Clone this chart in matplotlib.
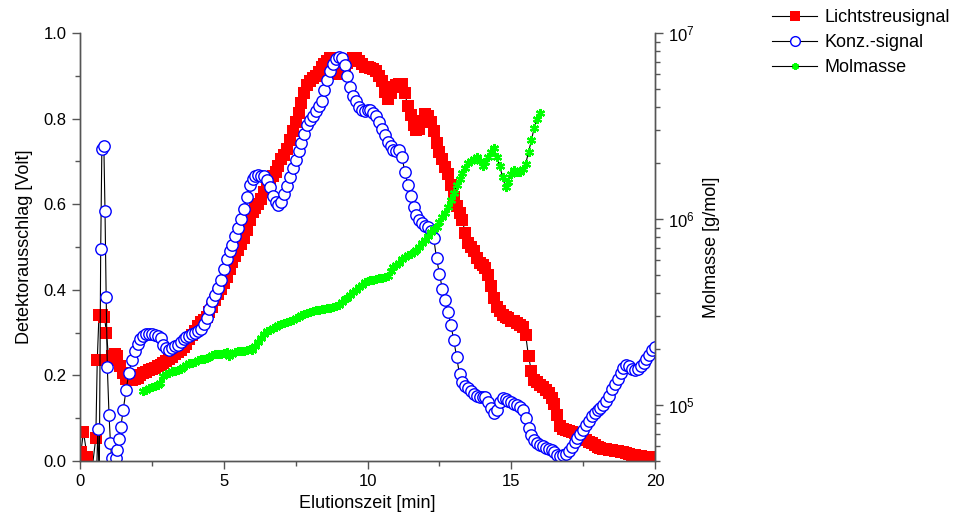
import numpy as np
import matplotlib
matplotlib.use("Agg")
import matplotlib.pyplot as plt
from matplotlib.lines import Line2D
from matplotlib.ticker import LogLocator, MultipleLocator, NullFormatter

plt.rcParams["font.family"] = ["Liberation Sans", "DejaVu Sans"]
plt.rcParams["mathtext.default"] = "regular"

# ---- DATA ----
# sparse points at the start of the run
licht_t_start = [0.03, 0.12, 0.25, 0.40, 0.55, 0.60, 0.66, 0.75, 0.85, 0.92, 1.00, 1.10, 1.20, 1.30, 1.40]
licht_v_start = [0.02, 0.068, 0.01, -0.03, 0.054, 0.235, 0.341, 0.34, 0.337, 0.300, 0.236, 0.245, 0.250, 0.245, 0.222]

konz_t_start = [0.55, 0.62, 0.67, 0.72, 0.76, 0.83, 0.87, 0.91, 0.95, 1.01, 1.06, 1.10, 1.17, 1.24, 1.29, 1.36, 1.42]
konz_v_start = [-0.1, 0.075, -0.05, 0.495, 0.73, 0.735, 0.584, 0.384, 0.22, 0.107, 0.041, 0.007, -0.02, 0.007, 0.026, 0.051, 0.08]

# dense part, one value every 0.1 min from 1.5 to 20.0 min
t_dense = np.round(np.arange(1.5, 20.01, 0.1), 1)

licht_dense = [
    0.205, 0.192, 0.189, 0.190, 0.192, 0.194, 0.200, 0.205, 0.209, 0.212,
    0.215, 0.218, 0.221, 0.225, 0.228, 0.233, 0.239, 0.244, 0.249, 0.255,
    0.260, 0.267, 0.274, 0.284, 0.294, 0.304, 0.315, 0.324, 0.330, 0.337,
    0.347, 0.360, 0.376, 0.390, 0.403, 0.417, 0.431, 0.448, 0.465, 0.478,
    0.492, 0.506, 0.522, 0.540, 0.562, 0.582, 0.592, 0.600, 0.612, 0.628,
    0.645, 0.658, 0.667, 0.676, 0.690, 0.705, 0.716, 0.728, 0.750, 0.772,
    0.793, 0.812, 0.836, 0.860, 0.878, 0.889, 0.896, 0.900, 0.908, 0.920,
    0.928, 0.935, 0.941, 0.935, 0.915, 0.904, 0.905, 0.915, 0.930, 0.938,
    0.941, 0.941, 0.935, 0.928, 0.921, 0.920, 0.918, 0.915, 0.912, 0.900,
    0.887, 0.862, 0.845, 0.860, 0.874, 0.878, 0.882, 0.880, 0.859, 0.830,
    0.808, 0.785, 0.773, 0.775, 0.795, 0.810, 0.805, 0.792, 0.770, 0.742,
    0.722, 0.705, 0.688, 0.670, 0.645, 0.617, 0.595, 0.580, 0.562, 0.532,
    0.510, 0.500, 0.490, 0.475, 0.463, 0.457, 0.452, 0.435, 0.410, 0.382,
    0.360, 0.350, 0.342, 0.337, 0.333, 0.328, 0.326, 0.322, 0.317, 0.312,
    0.295, 0.245, 0.210, 0.190, 0.184, 0.178, 0.172, 0.166, 0.158, 0.148,
    0.133, 0.108, 0.082, 0.075, 0.072, 0.070, 0.068, 0.065, 0.061, 0.057,
    0.053, 0.049, 0.045, 0.041, 0.037, 0.033, 0.030, 0.028, 0.027, 0.026,
    0.025, 0.024, 0.023, 0.022, 0.020, 0.018, 0.016, 0.014, 0.013, 0.012,
    0.011, 0.010, 0.010, 0.010, 0.010, 0.010,
]

konz_dense = [
    0.118, 0.165, 0.205, 0.236, 0.258, 0.273, 0.286, 0.293, 0.296, 0.297,
    0.297, 0.294, 0.293, 0.288, 0.272, 0.264, 0.260, 0.264, 0.268, 0.272,
    0.278, 0.284, 0.289, 0.293, 0.296, 0.300, 0.303, 0.309, 0.320, 0.335,
    0.356, 0.373, 0.389, 0.405, 0.423, 0.449, 0.472, 0.490, 0.505, 0.526,
    0.545, 0.566, 0.589, 0.616, 0.645, 0.660, 0.665, 0.668, 0.667, 0.665,
    0.656, 0.640, 0.620, 0.606, 0.598, 0.604, 0.624, 0.643, 0.664, 0.684,
    0.703, 0.724, 0.744, 0.765, 0.784, 0.797, 0.806, 0.818, 0.830, 0.842,
    0.866, 0.890, 0.911, 0.928, 0.939, 0.945, 0.942, 0.925, 0.900, 0.873,
    0.853, 0.840, 0.828, 0.820, 0.818, 0.820, 0.820, 0.813, 0.805, 0.792,
    0.776, 0.761, 0.746, 0.735, 0.727, 0.725, 0.727, 0.710, 0.675, 0.645,
    0.618, 0.593, 0.575, 0.563, 0.556, 0.550, 0.546, 0.538, 0.522, 0.474,
    0.438, 0.403, 0.376, 0.348, 0.318, 0.283, 0.243, 0.203, 0.185, 0.176,
    0.170, 0.164, 0.157, 0.152, 0.150, 0.150, 0.149, 0.138, 0.124, 0.113,
    0.118, 0.138, 0.148, 0.145, 0.140, 0.137, 0.134, 0.131, 0.127, 0.120,
    0.100, 0.076, 0.060, 0.048, 0.041, 0.037, 0.034, 0.031, 0.029, 0.026,
    0.021, 0.015, 0.012, 0.013, 0.017, 0.024, 0.033, 0.044, 0.054, 0.063,
    0.073, 0.083, 0.094, 0.104, 0.111, 0.118, 0.124, 0.132, 0.141, 0.153,
    0.168, 0.180, 0.192, 0.206, 0.218, 0.224, 0.221, 0.215, 0.213, 0.216,
    0.222, 0.229, 0.238, 0.248, 0.260, 0.267,
]

# molar mass, every 0.1 min from 2.2 to 16.0 min, in 1e5 g/mol
t_mol = np.round(np.arange(2.2, 16.01, 0.1), 1)
molmasse_1e5 = [
    1.19, 1.21, 1.23, 1.25, 1.26, 1.28, 1.32, 1.43, 1.46, 1.49,
    1.52, 1.53, 1.55, 1.57, 1.60, 1.64, 1.68, 1.69, 1.71, 1.74,
    1.76, 1.77, 1.79, 1.81, 1.86, 1.87, 1.87, 1.89, 1.90, 1.92,
    1.84, 1.88, 1.92, 1.94, 1.95, 1.95, 1.97, 1.99, 1.98, 2.08,
    2.19, 2.28, 2.40, 2.50, 2.54, 2.60, 2.64, 2.68, 2.72, 2.76,
    2.80, 2.84, 2.87, 2.92, 2.97, 3.03, 3.09, 3.14, 3.17, 3.20,
    3.23, 3.26, 3.28, 3.30, 3.32, 3.34, 3.36, 3.39, 3.47, 3.58,
    3.70, 3.78, 3.90, 4.03, 4.17, 4.31, 4.43, 4.56, 4.62, 4.68,
    4.72, 4.76, 4.80, 4.84, 4.88, 4.96, 5.25, 5.55, 5.68, 5.80,
    6.08, 6.27, 6.40, 6.52, 6.62, 6.83, 7.10, 7.40, 7.75, 8.15,
    8.50, 8.80, 9.10, 9.60, 10.3, 10.8, 11.6, 12.6, 13.8, 15.2,
    16.5, 17.6, 18.8, 19.9, 20.5, 21.0, 21.6, 20.6, 19.3, 20.2,
    21.6, 22.8, 24.2, 21.5, 19.2, 16.8, 14.9, 15.8, 17.5, 18.4,
    17.9, 18.0, 18.6, 19.8, 22.8, 26.5, 31.0, 34.5, 37.2,
]

licht_t = np.concatenate([licht_t_start, t_dense])
licht_v = np.concatenate([licht_v_start, licht_dense])
konz_t = np.concatenate([konz_t_start, t_dense])
konz_v = np.concatenate([konz_v_start, konz_dense])
molmasse = np.array(molmasse_1e5) * 1e5

# ---- PLOT ----
fig = plt.figure(figsize=(9.65, 5.27), dpi=100)
ax = fig.add_axes([80 / 965, 1 - 461 / 527, 575 / 965, 428 / 527])
ax2 = ax.twinx()

red_style = dict(color="black", lw=0.8, marker="s", mfc="#ff0000", mec="#ff0000", mew=0)
blue_style = dict(color="black", lw=0.8, marker="o", mfc="white", mec="#0000ff", mew=1.0)
green_style = dict(color="black", lw=0.8, marker=(6, 2, 0), mfc="#00ff00", mec="#00ff00", mew=1.6)

ax.plot(licht_t, licht_v, ms=8.6, **red_style)
ax.plot(konz_t, konz_v, ms=8.2, **blue_style)
ax2.plot(t_mol, molmasse, ms=6.5, **green_style)

spine_col = "#555555"
ax.set_xlim(0, 20)
ax.set_ylim(0, 1.0)
ax.xaxis.set_major_locator(MultipleLocator(5))
ax.xaxis.set_minor_locator(MultipleLocator(2.5))
ax.yaxis.set_major_locator(MultipleLocator(0.2))
ax.yaxis.set_minor_locator(MultipleLocator(0.1))
ax.yaxis.set_major_formatter(plt.FormatStrFormatter("%.1f"))

ax2.set_yscale("log")
ax2.set_ylim(5e4, 1e7)
ax2.yaxis.set_major_locator(LogLocator(base=10))
ax2.yaxis.set_minor_locator(LogLocator(base=10, subs=np.arange(2, 10)))
ax2.yaxis.set_minor_formatter(NullFormatter())

for a in (ax, ax2):
    a.spines["top"].set_visible(False)
    for s in a.spines.values():
        s.set_color(spine_col)
        s.set_linewidth(1.0)
    a.tick_params(which="major", direction="out", length=6, width=1,
                  color=spine_col, labelsize=12)
    a.tick_params(which="minor", direction="out", length=3.5, width=1,
                  color=spine_col)

ax.set_xlabel("Elutionszeit [min]", fontsize=13, labelpad=4)
ax.set_ylabel("Detektorausschlag [Volt]", fontsize=13, labelpad=8)
ax2.set_ylabel("Molmasse [g/mol]", fontsize=13, labelpad=6)

handles = [
    Line2D([], [], ms=7, **red_style),
    Line2D([], [], ms=7, **blue_style),
    Line2D([], [], ms=5, **green_style),
]
fig.legend(handles, ["Lichtstreusignal", "Konz.-signal", "Molmasse"],
           loc="upper left", bbox_to_anchor=(763 / 965, 1.0),
           frameon=False, fontsize=13, numpoints=1, handlelength=2.5,
           handletextpad=0.4, borderpad=0, labelspacing=0.45)

fig.savefig("out.png", dpi=100)
plt.close(fig)
